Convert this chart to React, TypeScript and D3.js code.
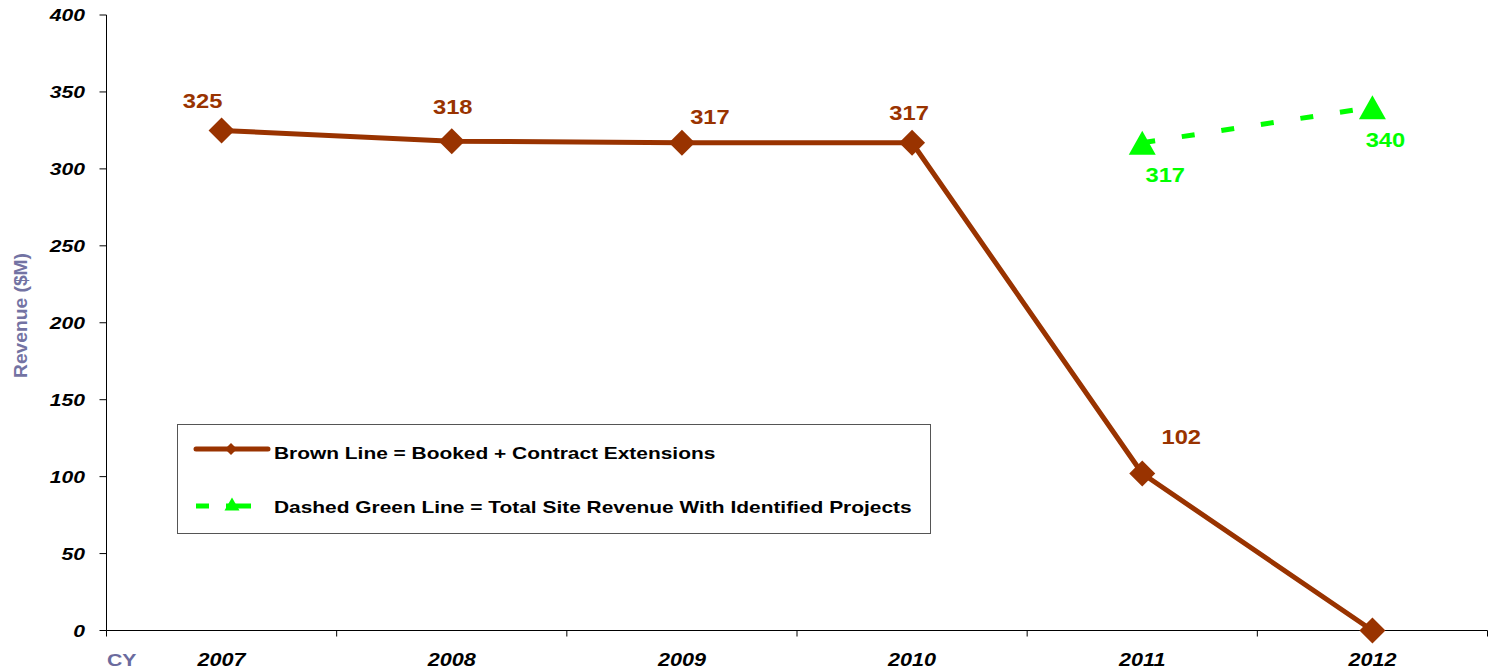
import React from "react";
import * as d3 from "d3";

const categories = ["2007", "2008", "2009", "2010", "2011", "2012"];
const brownValues = [325, 318, 317, 317, 102, 0];
const brownLabels = ["325", "318", "317", "317", "102", ""];
const greenCategories = ["2011", "2012"];
const greenValues = [317, 340];
const yTicks = [0, 50, 100, 150, 200, 250, 300, 350, 400];

const W = 1495;
const H = 672;
const left = 106.5;
const right = 1487.5;
const top = 15;
const bottom = 630.5;

const BROWN = "#993300";
const GREEN = "#00ff00";
const FONT = "'Liberation Sans', Arial, sans-serif";

type TProps = {
  x: number;
  y: number;
  sx: number;
  size: number;
  anchor?: "start" | "middle" | "end";
  italic?: boolean;
  fill: string;
  children: React.ReactNode;
};

function SText({ x, y, sx, size, anchor = "start", italic = false, fill, children }: TProps) {
  return (
    <text
      transform={`translate(${x},${y}) scale(${sx},1)`}
      textAnchor={anchor}
      fontFamily={FONT}
      fontWeight="bold"
      fontStyle={italic ? "italic" : "normal"}
      fontSize={size}
      fill={fill}
    >
      {children}
    </text>
  );
}

export default function App() {
  const x = d3.scaleBand<string>().domain(categories).range([left, right]);
  const y = d3.scaleLinear().domain([0, 400]).range([bottom, top]);
  const cx = (c: string) => (x(c) as number) + x.bandwidth() / 2;

  const line = d3
    .line<number>()
    .x((_, i) => cx(categories[i]))
    .y((d) => y(d));
  const gline = d3
    .line<number>()
    .x((_, i) => cx(greenCategories[i]))
    .y((d) => y(d));

  const diamond = (px: number, py: number, r: number) =>
    `M${px},${py - r}L${px + r},${py}L${px},${py + r}L${px - r},${py}Z`;
  const triangle = (px: number, py: number, w: number, h: number) =>
    `M${px},${py - h / 2}L${px + w / 2},${py + h / 2}L${px - w / 2},${py + h / 2}Z`;

  const brownLabelOffsets = [
    [-19, -22],
    [1, -27],
    [28, -19],
    [-3, -23],
    [39, -30],
  ];
  const greenLabelOffsets = [
    [23, 39],
    [13, 40],
  ];

  const boundaries = d3.range(categories.length + 1).map((i) => left + i * x.bandwidth());

  return (
    <svg width={W} height={H} style={{ position: "absolute", left: 0, top: 0, display: "block" }}>
      <rect width={W} height={H} fill="#ffffff" />
      {/* Y axis */}
      <line x1={left} x2={left} y1={top} y2={bottom} stroke="#000" strokeWidth={1} />
      {yTicks.map((t) => (
        <g key={t}>
          <line x1={left - 7} x2={left} y1={y(t)} y2={y(t)} stroke="#000" />
          <SText x={85} y={y(t) + 6} sx={1.28} size={16.5} anchor="end" italic fill="#000">
            {t}
          </SText>
        </g>
      ))}
      {/* X axis */}
      <line x1={left} x2={right} y1={bottom} y2={bottom} stroke="#000" />
      {boundaries.map((b, i) => (
        <line key={i} x1={b} x2={b} y1={bottom} y2={bottom + 6} stroke="#000" />
      ))}
      {categories.map((c) => (
        <SText key={c} x={cx(c)} y={666} sx={1.2} size={18} anchor="middle" italic fill="#000">
          {c}
        </SText>
      ))}
      <SText x={107} y={666} sx={1.25} size={17} fill="#6b6b9e">
        CY
      </SText>
      <text
        transform="translate(27,315.5) rotate(-90)"
        textAnchor="middle"
        fontFamily={FONT}
        fontWeight="bold"
        fontSize={18}
        textLength={125}
        lengthAdjust="spacingAndGlyphs"
        fill="#7373a3"
      >
        Revenue ($M)
      </text>

      {/* Brown series */}
      <path d={line(brownValues) || ""} fill="none" stroke={BROWN} strokeWidth={5} strokeLinejoin="round" />
      {brownValues.map((v, i) => (
        <path key={i} d={diamond(cx(categories[i]), y(v), 13)} fill={BROWN} />
      ))}
      {brownLabels.map((l, i) =>
        l ? (
          <SText
            key={i}
            x={cx(categories[i]) + brownLabelOffsets[i][0]}
            y={y(brownValues[i]) + brownLabelOffsets[i][1]}
            sx={1.13}
            size={21}
            anchor="middle"
            fill={BROWN}
          >
            {l}
          </SText>
        ) : null
      )}

      {/* Green series */}
      <path d={gline(greenValues) || ""} fill="none" stroke={GREEN} strokeWidth={5} strokeDasharray="13,27" />
      {greenValues.map((v, i) => (
        <path key={i} d={triangle(cx(greenCategories[i]), y(v), 27, 24)} fill={GREEN} />
      ))}
      {greenValues.map((v, i) => (
        <SText
          key={i}
          x={cx(greenCategories[i]) + greenLabelOffsets[i][0]}
          y={y(v) + greenLabelOffsets[i][1]}
          sx={1.13}
          size={21}
          anchor="middle"
          fill={GREEN}
        >
          {v}
        </SText>
      ))}

      {/* Legend */}
      <rect x={177.5} y={424.5} width={753} height={109} fill="#fff" stroke="#555" strokeWidth={1} />
      <line x1={196} x2={268} y1={449} y2={449} stroke={BROWN} strokeWidth={5} strokeLinecap="round" />
      <path d={diamond(231, 449, 6)} fill={BROWN} />
      <SText x={274} y={459} sx={1.23} size={17} fill="#000">
        Brown Line = Booked + Contract Extensions
      </SText>
      <line x1={196} x2={209} y1={506} y2={506} stroke={GREEN} strokeWidth={5} />
      <line x1={226} x2={251} y1={506} y2={506} stroke={GREEN} strokeWidth={5} />
      <path d={triangle(232, 504, 15, 13)} fill={GREEN} />
      <SText x={274} y={513} sx={1.23} size={17} fill="#000">
        Dashed Green Line = Total Site Revenue With Identified Projects
      </SText>
    </svg>
  );
}
